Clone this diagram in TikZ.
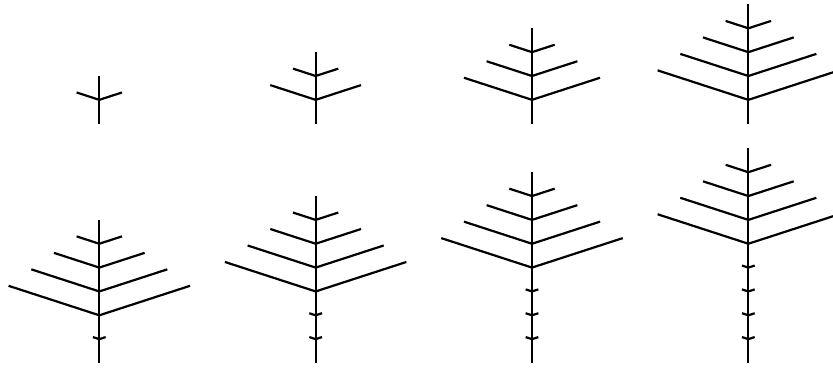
\documentclass[tikz,border=0pt]{standalone}
\begin{document}
\begin{tikzpicture}[x=1pt,y=-1pt,
  stemline/.style={line width=2.2pt, line cap=butt, line join=miter}]
\useasboundingbox (0,0) rectangle (833,371);
\clip (0,0) rectangle (833,371);
\def\u{23.85}
\def\ang{18}
\foreach \n in {1,...,8}{
  \pgfmathsetmacro\col{mod(\n-1,4)}
  \pgfmathsetmacro\cx{99.3+216.35*\col}
  \pgfmathsetmacro\yb{\n>4 ? 363 : 123.7}
  \pgfmathtruncatemacro\m{min(\n,4)}
  \pgfmathtruncatemacro\t{\n-\m}
  \coordinate (base\n) at (\cx,\yb);
  \coordinate (tip\n) at (\cx,{\yb-(\n+1)*\u});
  \draw[stemline] (base\n) -- (tip\n);
  \foreach \k in {1,...,\m}{
    \pgfmathsetmacro\ny{\yb-(\n+1-\k)*\u}
    \pgfmathsetmacro\dx{\k*\u*cos(\ang)}
    \pgfmathsetmacro\dy{\k*\u*sin(\ang)}
    \coordinate (nd\n-\k) at (\cx,\ny);
    \coordinate (l\n-\k) at (\cx-\dx,\ny-\dy);
    \coordinate (r\n-\k) at (\cx+\dx,\ny-\dy);
    \draw[stemline] (l\n-\k) -- (nd\n-\k) -- (r\n-\k);
  }
  \ifnum\t>0
    \foreach \j in {1,...,\t}{
      \pgfmathsetmacro\ny{\yb-\j*\u}
      \pgfmathsetmacro\dx{0.28*\u*cos(\ang)}
      \pgfmathsetmacro\dy{0.28*\u*sin(\ang)}
      \coordinate (sn\n-\j) at (\cx,\ny);
      \coordinate (sl\n-\j) at (\cx-\dx,\ny-\dy);
      \coordinate (sr\n-\j) at (\cx+\dx,\ny-\dy);
      \draw[stemline] (sl\n-\j) -- (sn\n-\j) -- (sr\n-\j);
    }
  \fi
}
\end{tikzpicture}
\end{document}
